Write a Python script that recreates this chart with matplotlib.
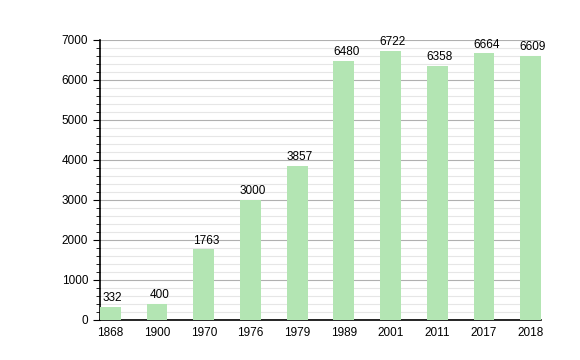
import matplotlib
matplotlib.use("Agg")
import matplotlib.pyplot as plt
from matplotlib.ticker import MultipleLocator

years = ["1868", "1900", "1970", "1976", "1979", "1989", "2001", "2011", "2017", "2018"]
population = [332, 400, 1763, 3000, 3857, 6480, 6722, 6358, 6664, 6609]

plt.rcParams['font.family'] = ['Liberation Sans', 'DejaVu Sans']

fig = plt.figure(figsize=(5.8, 3.6), dpi=100)
ax = fig.add_axes([100 / 580, 40 / 360, 441 / 580, 280 / 360])

x = list(range(len(years)))
bar_w = 0.444
ax.bar(x, population, width=bar_w, color="#b3e5b3", zorder=3)
# value labels sit a touch right of the bar centre in the original
for xi, v in zip(x, population):
    ax.text(xi + 0.05, v + 70, str(v), ha="center", va="bottom", fontsize=8.5, zorder=4)

ax.set_xlim(-bar_w / 2, len(years) - 1 + bar_w / 2)
ax.set_ylim(0, 7000)
ax.yaxis.set_major_locator(MultipleLocator(1000))
ax.yaxis.set_minor_locator(MultipleLocator(200))
ax.grid(axis="y", which="major", color="#b0b0b0", linewidth=0.8, zorder=1)
ax.grid(axis="y", which="minor", color="#e6e6e6", linewidth=0.8, zorder=1)

ax.set_xticks(x)
ax.set_xticklabels(years)
ax.tick_params(axis="x", length=0, labelsize=8.5, pad=5)
ax.tick_params(axis="y", which="major", length=5, labelsize=8.5)
ax.tick_params(axis="y", which="minor", length=3)

for s in ["top", "right"]:
    ax.spines[s].set_visible(False)
ax.spines["left"].set_linewidth(1.2)
ax.spines["bottom"].set_linewidth(1.2)

fig.savefig("out.png", dpi=100)
